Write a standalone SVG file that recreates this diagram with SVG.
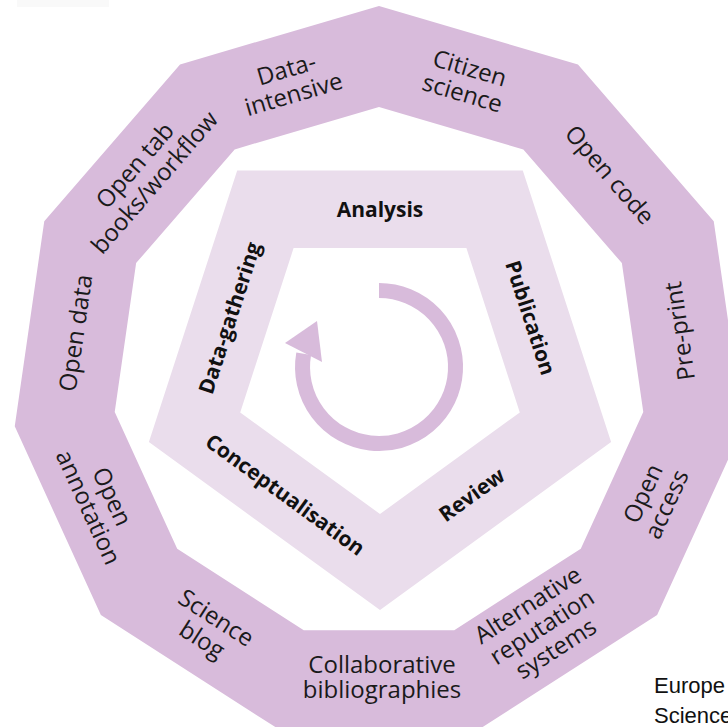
<svg xmlns="http://www.w3.org/2000/svg" width="728" height="728" viewBox="0 0 728 728">
  <style>
    .ring { fill: #d8bbdb; fill-rule: evenodd; }
    .band { fill: #eaddec; fill-rule: evenodd; }
    .lbl { font-family: "Open Sans", "Liberation Sans", sans-serif; font-size: 24px; fill: #1a1a1a; text-anchor: middle; }
    .stage { font-family: "Open Sans", "Liberation Sans", sans-serif; font-size: 21px; font-weight: bold; fill: #111111; text-anchor: middle; }
    .note { font-family: "Liberation Sans", "Noto Sans", sans-serif; font-size: 22px; fill: #111111; }
  </style>
  <rect x="0" y="0" width="728" height="728" fill="#ffffff"/>
  <rect x="17" y="0" width="92" height="7" fill="#f9f9f9"/>

  <!-- outer 11-gon ring -->
  <g id="outer-ring">
    <path class="ring" d="M379,6 L577.96,64.42 L713.74,221.13 L743.25,426.37 L657.12,614.99 L482.68,727.09 L275.32,727.09 L100.88,614.99 L14.75,426.37 L44.26,221.13 L180.04,64.42 Z
      M379,107 L523.35,149.39 L621.87,263.08 L643.28,412 L580.79,548.85 L454.22,630.18 L303.78,630.18 L177.21,548.85 L114.72,412 L136.13,263.08 L234.65,149.39 Z"/>
  </g>

  <!-- pentagon band -->
  <g id="cycle-band">
    <path class="band" d="M380,610 L148.9,442.1 L237.2,170.4 L522.8,170.4 L611.1,442.1 Z
      M380,514 L240.2,412.4 L293.6,248.1 L466.4,248.1 L519.8,412.4 Z"/>
  </g>

  <!-- circular arrow -->
  <g id="connectors">
    <path d="M379,290.5 A76.5,76.5 0 1 1 303.7,353.7" fill="none" stroke="#d8bbdb" stroke-width="15"/>
    <polygon points="285,343 317,321 322,362" fill="#d8bbdb"/>
  </g>

  <!-- ring labels -->
  <g id="data-intensive" transform="translate(290,82) rotate(-16.36)">
    <text class="lbl"><tspan x="0" y="-5">Data-</tspan><tspan x="0" y="21">intensive</tspan></text>
  </g>
  <g id="citizen-science" transform="translate(466,81) rotate(16.36)">
    <text class="lbl"><tspan x="0" y="-5">Citizen</tspan><tspan x="0" y="21">science</tspan></text>
  </g>
  <g id="open-code" transform="translate(609.5,175) rotate(49.09)">
    <text class="lbl" x="0" y="8">Open code</text>
  </g>
  <g id="pre-print" transform="translate(680,331) rotate(-98.18)">
    <text class="lbl" x="0" y="8">Pre-print</text>
  </g>
  <g id="open-access" transform="translate(655,499) rotate(-65.45)">
    <text class="lbl"><tspan x="0" y="-5">Open</tspan><tspan x="0" y="21">access</tspan></text>
  </g>
  <g id="alternative-reputation" transform="translate(542,627) rotate(-32.73)">
    <text class="lbl"><tspan x="0" y="-18">Alternative</tspan><tspan x="0" y="8">reputation</tspan><tspan x="0" y="34">systems</tspan></text>
  </g>
  <g id="collaborative-bibliographies" transform="translate(382,679)">
    <text class="lbl"><tspan x="0" y="-6">Collaborative</tspan><tspan x="0" y="19">bibliographies</tspan></text>
  </g>
  <g id="science-blog" transform="translate(209,629) rotate(32.73)">
    <text class="lbl"><tspan x="0" y="-5">Science</tspan><tspan x="0" y="21">blog</tspan></text>
  </g>
  <g id="open-annotation" transform="translate(100,502) rotate(65.45)">
    <text class="lbl"><tspan x="0" y="-5">Open</tspan><tspan x="0" y="21">annotation</tspan></text>
  </g>
  <g id="open-data" transform="translate(76,333) rotate(-81.82)">
    <text class="lbl" x="0" y="8">Open data</text>
  </g>
  <g id="open-tab-books" transform="translate(145,174) rotate(-49.09)">
    <text class="lbl"><tspan x="0" y="-5">Open tab</tspan><tspan x="0" y="21">books/workflow</tspan></text>
  </g>

  <!-- cycle stage labels -->
  <g id="analysis" transform="translate(380,209)">
    <text class="stage" x="0" y="8">Analysis</text>
  </g>
  <g id="publication" transform="translate(530,318) rotate(72)">
    <text class="stage" x="0" y="7">Publication</text>
  </g>
  <g id="review" transform="translate(472,495) rotate(-36)">
    <text class="stage" x="0" y="7">Review</text>
  </g>
  <g id="conceptualisation" transform="translate(285,495) rotate(36)">
    <text class="stage" x="0" y="7">Conceptualisation</text>
  </g>
  <g id="data-gathering" transform="translate(230,318) rotate(-72)">
    <text class="stage" x="0" y="7">Data-gathering</text>
  </g>

  <!-- caption fragment -->
  <g id="caption">
    <text class="note" x="654" y="693">Europe</text>
    <text class="note" x="654" y="723">Science</text>
  </g>
</svg>
